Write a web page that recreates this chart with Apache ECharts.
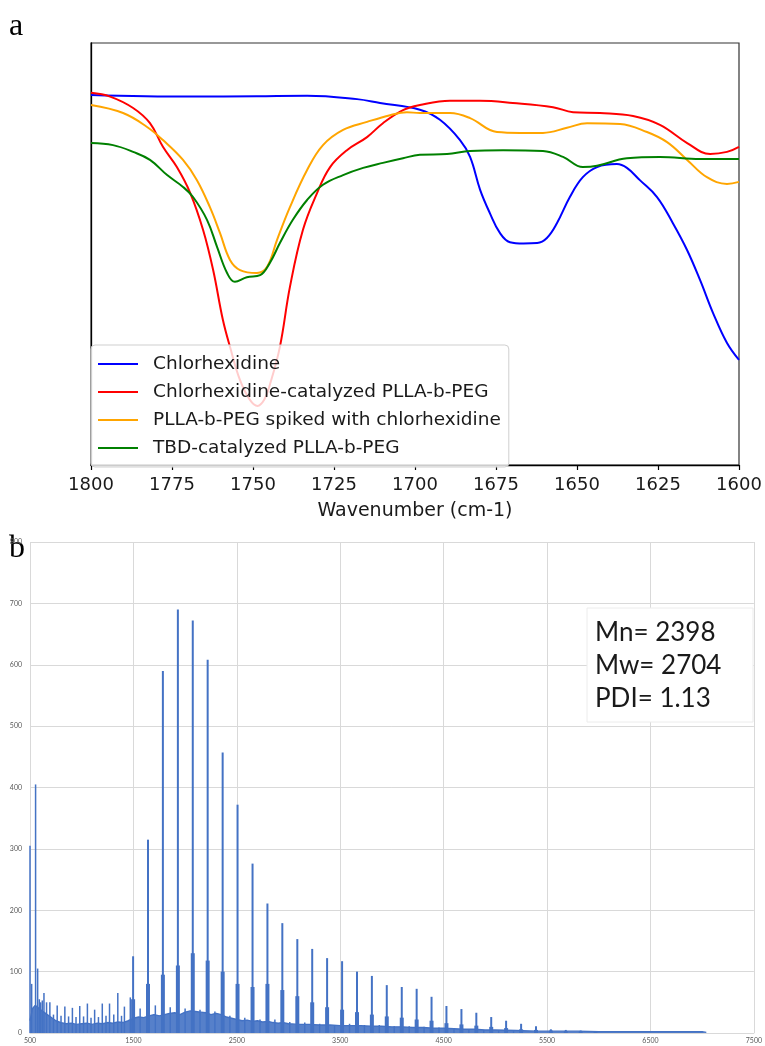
<!DOCTYPE html>
<html><head><meta charset="utf-8">
<script src="https://cdn.jsdelivr.net/npm/echarts@6/dist/echarts.min.js"></script>
<style>html,body{margin:0;padding:0;background:#fff}#c{width:765px;height:1046px}</style>
</head><body><div id="c"></div>
<script>
// ---------- Panel a: FTIR (wavenumber cm-1, relative transmittance) ----------
const seriesNames = ['Chlorhexidine', 'Chlorhexidine-catalyzed PLLA-b-PEG', 'PLLA-b-PEG spiked with chlorhexidine', 'TBD-catalyzed PLLA-b-PEG'];
const wavenumberTicks = [1800, 1775, 1750, 1725, 1700, 1675, 1650, 1625, 1600];
const chlorhexidine = [[1800,87.7],[1769.4,87.3],[1748.8,87.4],[1733.3,87.5],[1717.9,86.7],[1710.8,85.8],[1698.5,84.2],[1692.3,81.8],[1686.1,77.0],[1683.0,73.0],[1679.9,65.2],[1676.9,59.7],[1673.8,55.0],[1670.7,52.8],[1666.5,52.5],[1662.3,52.6],[1659.3,53.8],[1656.2,57.3],[1652.2,63.5],[1648.2,68.2],[1643.8,70.6],[1637.7,71.3],[1634.6,70.4],[1630.6,67.5],[1625.3,63.5],[1620.4,57.3],[1616.0,50.9],[1612.0,43.8],[1608.0,36.0],[1603.7,28.9],[1600,24.9]];
const chxCatalyzed = [[1800,88.2],[1794.1,87.3],[1787.0,84.6],[1781.8,81.0],[1777.8,75.4],[1773.5,70.6],[1769.4,64.5],[1765.4,55.7],[1762.3,46.2],[1759.3,34.4],[1757.1,28.0],[1754.0,20.1],[1751.0,15.5],[1748.6,14.0],[1746.5,15.5],[1744.8,19.0],[1741.7,28.0],[1738.6,42.2],[1734.6,55.7],[1730.2,64.5],[1726.2,70.6],[1721.0,74.6],[1714.8,77.7],[1709.9,81.0],[1703.7,84.1],[1698.5,85.3],[1689.2,86.3],[1680.0,86.3],[1669.8,85.8],[1657.4,84.8],[1651.2,83.6],[1642.9,83.4],[1632.7,82.7],[1624.4,80.6],[1616.0,76.3],[1608.9,73.7],[1603.7,74.2],[1600,75.4]];
const spikedBlend = [[1800,85.3],[1790.1,83.4],[1782.7,80.1],[1777.8,77.0],[1771.6,72.3],[1767.3,67.5],[1763.3,61.1],[1760.2,55.0],[1757.1,48.6],[1754.0,46.2],[1748.8,45.5],[1745.7,46.9],[1742.6,53.3],[1738.6,61.1],[1733.3,69.9],[1728.4,75.8],[1722.2,79.4],[1714.8,81.3],[1707.7,82.9],[1702.5,83.6],[1698.5,83.4],[1689.2,83.4],[1683.0,82.2],[1674.7,78.9],[1667.6,78.7],[1660.5,78.7],[1653.1,79.9],[1646.9,81.0],[1636.7,80.8],[1628.4,78.9],[1622.2,76.5],[1616.0,72.3],[1609.9,68.2],[1603.7,66.6],[1600,67.1]];
const tbdCatalyzed = [[1800,76.3],[1793.2,75.8],[1787.0,74.2],[1781.8,72.3],[1776.5,68.7],[1771.6,65.9],[1768.5,63.5],[1764.2,58.1],[1761.1,51.7],[1758.0,45.5],[1755.6,43.4],[1751.9,44.5],[1747.8,45.0],[1744.8,47.9],[1741.7,52.6],[1737.7,58.1],[1733.3,62.8],[1728.4,66.4],[1722.2,68.7],[1716.0,70.4],[1709.9,71.6],[1703.7,72.7],[1698.5,73.5],[1690.1,73.7],[1683.0,74.4],[1672.8,74.6],[1660.5,74.4],[1654.3,73.0],[1648.2,70.6],[1643.8,70.9],[1634.6,72.7],[1624.4,73.0],[1612.0,72.5],[1600,72.5]];
const ftirColors = ['#0000ff', '#ff0000', '#ffa500', '#008000'];

// ---------- Panel b: MALDI-TOF (m/z, intensity) ----------
const massTicks = [500, 1500, 2500, 3500, 4500, 5500, 6500, 7500];
const intensityTicks = [0, 100, 200, 300, 400, 500, 600, 700, 800];
const peakMass   = [1497,1641,1785,1930,2074,2218,2363,2507,2652,2796,2940,3085,3229,3373,3518,3662,3806,3950,4095,4239,4383,4527,4672,4816,4960,5104,5249,5393,5537,5681,5825,5969];
const peakHeight = [125,315,590,690,672,608,457,372,276,211,179,153,137,122,117,100,93,78,75,72,59,44,39,33,26,20,15,11,6,5,4,3];
const shoulderHeight = [55,80,95,110,130,118,100,80,75,80,70,60,50,42,38,34,30,27,25,22,20,16,14,12,10,8,6,5,4,3,3,2];
const minorMass   = [500,516,554,574,590,603,619,635,660,692,727,763,800,837,873,910,945,981,1018,1055,1090,1125,1162,1199,1235,1269,1310,1349,1385,1413,1470,1565,1712,1856,2000,2144,2288,2433,2577,2724,2868,3012,3157,3301,3445,3590,3734,3878,4022,4167,4311,4455,4600,4744,4888,5032,5176];
const minorHeight = [305,80,405,105,55,50,53,65,50,50,30,45,28,43,27,41,26,44,27,48,25,38,26,48,28,48,30,65,28,43,58,40,45,42,40,38,35,28,25,22,22,18,17,15,13,15,13,13,11,11,10,9,8,6,5,4,3];
const noiseEnvelope = [[500,20],[525,40],[550,45],[575,42],[600,38],[650,32],[700,26],[750,20],[800,17],[850,15],[900,16],[950,14],[1000,15],[1050,16],[1100,14],[1150,16],[1200,15],[1250,17],[1300,16],[1350,18],[1400,17],[1450,20],[1500,24],[1550,26],[1600,25],[1650,28],[1700,30],[1750,28],[1800,30],[1850,32],[1900,33],[1950,30],[2000,34],[2050,36],[2100,35],[2150,34],[2200,33],[2250,30],[2300,32],[2350,30],[2400,26],[2450,24],[2500,22],[2550,20],[2600,21],[2650,19],[2700,20],[2750,18],[2800,19],[2850,17],[2900,16],[2950,17],[3000,15],[3100,14],[3200,14],[3300,13],[3400,13],[3500,12],[3600,12],[3700,12],[3800,11],[3900,11],[4000,10],[4100,10],[4200,9],[4300,9],[4400,8],[4500,8],[4600,7],[4700,6],[4800,6],[4900,5],[5000,5],[5200,4],[5400,3],[5600,3],[5800,3],[6000,2],[6200,2],[6400,2],[6600,2],[6800,2],[7000,2],[7040,1]];
const mwStats = ['Mn= 2398', 'Mw= 2704', 'PDI= 1.13'];

const specBlue = '#4472C4';
const zip = (xs, ys) => xs.map((x, i) => [x, ys[i]]);

const chart = echarts.init(document.getElementById('c'), null, {renderer: 'canvas'});
const ftirData = [chlorhexidine, chxCatalyzed, spikedBlend, tbdCatalyzed];

const hiddenMassAxis = () => ({gridIndex: 1, type: 'value', min: 500, max: 7500, show: false});

chart.setOption({
  animation: false,
  backgroundColor: '#ffffff',
  grid: [
    {left: 91, top: 43, width: 648, height: 422, show: true, borderColor: '#333', borderWidth: 1.2, backgroundColor: 'transparent'},
    {left: 30, top: 542, width: 728, height: 491}
  ],
  legend: {
    show: true, orient: 'vertical', left: 91, top: 345,
    data: seriesNames, selectedMode: false,
    icon: 'rect', itemWidth: 40, itemHeight: 2, itemGap: 6,
    padding: [8, 8, 8, 7],
    backgroundColor: 'rgba(255,255,255,0.8)', borderColor: '#cfcfcf', borderWidth: 1, borderRadius: 4,
    textStyle: {fontFamily: 'DejaVu Sans', fontSize: 18.5, color: '#1a1a1a', lineHeight: 22, padding: [0, 0, 0, 10]}
  },
  xAxis: [
    {gridIndex: 0, type: 'value', min: 1600, max: 1800, interval: 25, inverse: true,
     name: 'Wavenumber (cm-1)', nameLocation: 'middle', nameGap: 37,
     nameTextStyle: {fontFamily: 'DejaVu Sans', fontSize: 19, color: '#1a1a1a'},
     axisLine: {show: true, onZero: false, lineStyle: {color: '#000', width: 1.3}},
     axisTick: {show: true, length: 5, lineStyle: {color: '#000', width: 1.2}},
     axisLabel: {fontFamily: 'DejaVu Sans', fontSize: 18, color: '#1a1a1a', margin: 11, showMinLabel: true, showMaxLabel: true,
       formatter: v => wavenumberTicks.includes(v) ? String(v) : ''},
     splitLine: {show: false}},
    {gridIndex: 1, type: 'value', min: 500, max: 7500, interval: 1000,
     axisLine: {show: true, onZero: false, lineStyle: {color: '#d9d9d9', width: 1}},
     axisTick: {show: false},
     axisLabel: {fontFamily: 'Lato', fontSize: 7, color: '#595959', margin: 4, showMinLabel: true, showMaxLabel: true,
       formatter: v => massTicks.includes(v) ? String(v) : ''},
     splitLine: {show: true, lineStyle: {color: '#d9d9d9', width: 1}}},
    hiddenMassAxis(), hiddenMassAxis(), hiddenMassAxis()
  ],
  yAxis: [
    {gridIndex: 0, type: 'value', min: 0, max: 100,
     axisLine: {show: true, lineStyle: {color: '#000', width: 1.3}},
     axisTick: {show: false}, axisLabel: {show: false}, splitLine: {show: false}},
    {gridIndex: 1, type: 'value', min: 0, max: 800, interval: 100,
     axisLine: {show: false}, axisTick: {show: false},
     axisLabel: {fontFamily: 'Lato', fontSize: 7, color: '#595959', margin: 8,
       formatter: v => intensityTicks.includes(v) ? String(v) : ''},
     splitLine: {show: true, lineStyle: {color: '#d9d9d9', width: 1}}}
  ],
  series: [
    ...ftirData.map((d, i) => ({
      name: seriesNames[i], type: 'line', xAxisIndex: 0, yAxisIndex: 0,
      data: d, smooth: 0.4, symbol: 'none', showSymbol: false,
      lineStyle: {color: ftirColors[i], width: 2}, itemStyle: {color: ftirColors[i]}, z: 2
    })),
    {name: 'noise', type: 'line', xAxisIndex: 1, yAxisIndex: 1, data: noiseEnvelope,
     symbol: 'none', lineStyle: {color: specBlue, width: 1.4},
     areaStyle: {color: specBlue, opacity: 0.9}},
    {name: 'shoulder', type: 'bar', xAxisIndex: 2, yAxisIndex: 1, data: zip(peakMass, shoulderHeight),
     barWidth: 4, itemStyle: {color: specBlue}},
    {name: 'peaks', type: 'bar', xAxisIndex: 3, yAxisIndex: 1, data: zip(peakMass, peakHeight),
     barWidth: 2, itemStyle: {color: specBlue}},
    {name: 'minor', type: 'bar', xAxisIndex: 4, yAxisIndex: 1, data: zip(minorMass, minorHeight),
     barWidth: 1.5, itemStyle: {color: specBlue}}
  ],
  graphic: [
    {type: 'text', x: 9, y: 27, style: {text: 'a', font: '32px "Liberation Serif"', fill: '#000', verticalAlign: 'middle'}},
    {type: 'text', x: 9, y: 549, style: {text: 'b', font: '32px "Liberation Serif"', fill: '#000', verticalAlign: 'middle'}},
    {type: 'rect', shape: {x: 587, y: 608, width: 166, height: 114}, style: {fill: '#fff', stroke: '#ececec', lineWidth: 1}, z: 10},
    ...mwStats.map((t, i) => ({type: 'text', x: 595, y: 633 + i * 33, z: 11,
      style: {text: t, font: '26px Lato', fill: '#1a1a1a', verticalAlign: 'middle'}}))
  ]
});
</script></body></html>
